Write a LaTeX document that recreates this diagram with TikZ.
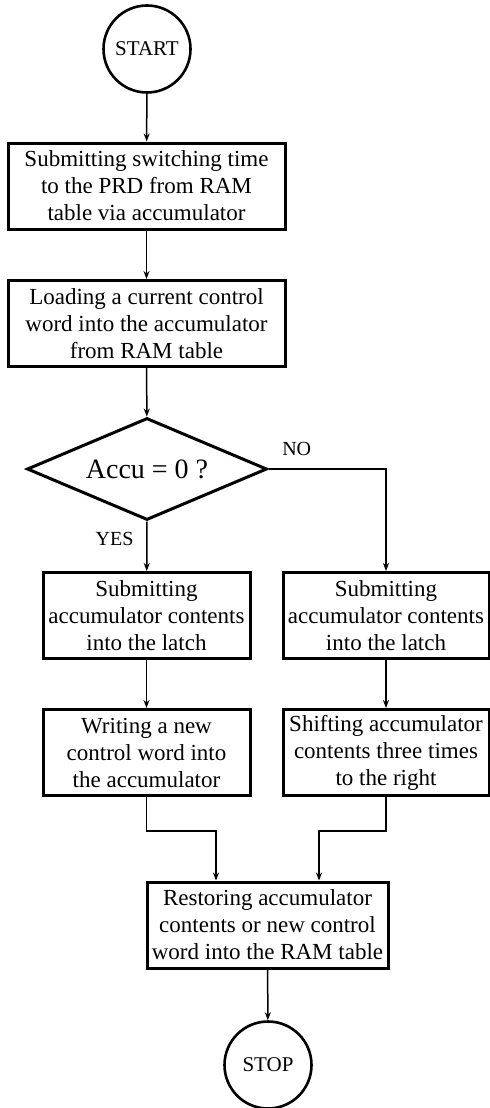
\documentclass[tikz,border=0pt]{standalone}
\usepackage{fontspec}
\setmainfont{Liberation Serif}
\usetikzlibrary{shapes.geometric,arrows.meta}

\begin{document}
\begin{tikzpicture}[x=0.5pt, y=0.5pt,
    box/.style={draw, line width=1.5pt, align=center, inner sep=2pt, minimum height=43pt, font=\fontsize{11.5}{13.5}\selectfont},
    terminal/.style={draw, circle, line width=1.3pt, minimum size=43.5pt, inner sep=0pt, font=\fontsize{10.5}{12}\selectfont},
    decision/.style={draw, diamond, aspect=2.35, line width=1.5pt, minimum width=120pt, minimum height=51pt, inner sep=1pt, font=\fontsize{14}{16}\selectfont},
    flow/.style={-{Stealth[length=4pt,width=3pt]}, line width=0.75pt},
    answer/.style={font=\fontsize{10}{12}\selectfont}]

\useasboundingbox (0,0) rectangle (490,-1108);

% Terminals
\node[terminal] (start) at (147,-49) {START};
\node[terminal] (stop) at (268,-1065) {STOP};

% Main column
\node[box, minimum width=138.5pt] (submit) at (146.5,-186) {Submitting switching time\\to the PRD from RAM\\table via accumulator};
\node[box, minimum width=138.5pt] (load) at (146.5,-323.5) {Loading a current control\\word into the accumulator\\from RAM table};

% Decision
\node[decision] (accu) at (147,-469) {Accu = 0 ?};

% YES branch
\node[box, minimum width=103.5pt] (latchyes) at (146.5,-615.5) {Submitting\\accumulator contents\\into the latch};
\node[box, minimum width=103.5pt] (write) at (146.5,-752.5) {Writing a new\\control word into\\the accumulator};

% NO branch
\node[box, minimum width=103pt] (latchno) at (386,-615.5) {Submitting\\accumulator contents\\into the latch};
\node[box, minimum width=103pt] (shift) at (386,-752.5) {Shifting accumulator\\contents three times\\to the right};

% Merge
\node[box, minimum width=120.5pt] (restore) at (267.5,-925) {Restoring accumulator\\contents or new control\\word into the RAM table};

% Connectors
\draw[flow] (start) -- (submit);
\draw[flow] (submit) -- (load);
\draw[flow] (load) -- (accu);
\draw[flow] (accu.south) -- (latchyes) node[answer, pos=0.35, left=3pt] {YES};
\draw[flow] (accu.east) -| (latchno) node[answer, pos=0.12, above=3pt] {NO};
\draw[flow] (latchyes) -- (write);
\draw[flow] (latchno) -- (shift);
\draw[flow] (write.south) -- ++(0,-34) -| ([xshift=-25.75pt]restore.north);
\draw[flow] (shift.south) -- ++(0,-34) -| ([xshift=25.75pt]restore.north);
\draw[flow] (restore) -- (stop);

\end{tikzpicture}
\end{document}
